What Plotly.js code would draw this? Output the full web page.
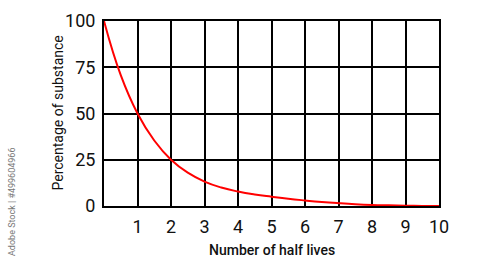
<!DOCTYPE html>
<html>
<head>
<meta charset="utf-8">
<script src="https://cdn.plot.ly/plotly-3.0.1.min.js"></script>
<style>html,body{margin:0;padding:0;background:#fff;}#chart{width:500px;height:264px;}</style>
</head>
<body>
<div id="chart"></div>
<script>
// Data
const halfLives = [0, 0.5, 1, 1.5, 2, 2.5, 3, 3.5, 4, 4.5, 5, 5.5, 6, 6.5, 7, 7.5, 8, 8.5, 9, 9.5, 10];
const percentRemaining = [100, 70.7, 50, 35.4, 25, 18.0, 13.2, 10.0, 7.8, 6.2, 5.0, 3.9, 3.0, 2.2, 1.55, 1.0, 0.6, 0.35, 0.15, 0.05, 0];
const xTickVals = [0, 1, 2, 3, 4, 5, 6, 7, 8, 9, 10];
const xTickText = ['', '1', '2', '3', '4', '5', '6', '7', '8', '9', '10'];
const yTickVals = [0, 25, 50, 75, 100];

const trace = {
  x: halfLives,
  y: percentRemaining,
  type: 'scatter',
  mode: 'lines',
  line: {color: '#ff0000', width: 2, shape: 'spline', smoothing: 1.3},
  hoverinfo: 'skip',
  cliponaxis: false
};

const layout = {
  width: 500, height: 264,
  margin: {l: 104, r: 61, t: 21, b: 58},
  paper_bgcolor: '#ffffff',
  plot_bgcolor: '#ffffff',
  showlegend: false,
  font: {family: 'Roboto, sans-serif', color: '#111'},
  xaxis: {
    range: [0, 10],
    tickmode: 'array', tickvals: xTickVals, ticktext: xTickText,
    showgrid: true, gridcolor: '#000', gridwidth: 2,
    showline: true, linecolor: '#000', linewidth: 2, mirror: true,
    zeroline: false, ticks: '',
    ticklabelstandoff: 3,
    tickfont: {size: 18, color: '#111'}
  },
  yaxis: {
    range: [0, 100],
    tickmode: 'array', tickvals: yTickVals,
    showgrid: true, gridcolor: '#000', gridwidth: 2,
    showline: true, linecolor: '#000', linewidth: 2, mirror: true,
    zeroline: false, ticks: '',
    ticklabelstandoff: 3,
    tickfont: {size: 18, color: '#111'}
  },
  annotations: [
    {
      text: 'Number of half lives',
      xref: 'paper', yref: 'paper',
      x: 0.5, y: 0, xanchor: 'center', yanchor: 'middle',
      yshift: -44, showarrow: false,
      font: {size: 14, weight: 500, color: '#111'}
    },
    {
      text: 'Percentage of substance',
      xref: 'paper', yref: 'paper',
      x: 0, y: 0.5, xanchor: 'center', yanchor: 'middle',
      xshift: -47, textangle: -90, showarrow: false,
      font: {size: 14, color: '#111'}
    },
    {
      text: 'Adobe Stock | #499604966',
      xref: 'paper', yref: 'paper',
      x: 0, y: 0, xanchor: 'center', yanchor: 'middle',
      xshift: -92, yshift: 4, textangle: -90, showarrow: false,
      font: {size: 9, color: '#777'}
    }
  ]
};

Plotly.newPlot('chart', [trace], layout, {staticPlot: true, displayModeBar: false});
</script>
</body>
</html>
